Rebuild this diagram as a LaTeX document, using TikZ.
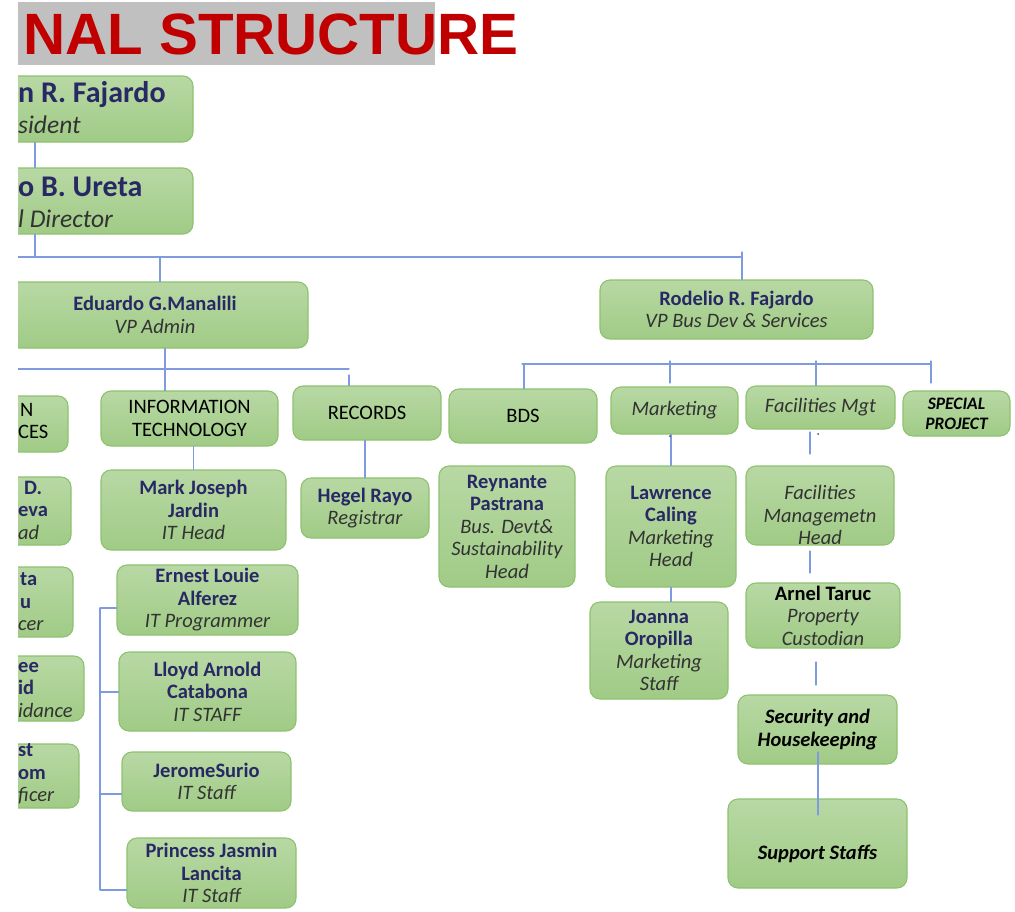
\documentclass[tikz,border=0pt]{standalone}
\usepackage{fontspec}
\setmainfont{Carlito}
\newfontfamily\titlefont{Liberation Sans}
\definecolor{boxtop}{RGB}{184,216,164}
\definecolor{boxbot}{RGB}{160,203,134}
\definecolor{boxline}{RGB}{142,194,112}
\definecolor{linkblue}{RGB}{125,155,222}
\definecolor{navy}{RGB}{40,40,100}
\definecolor{rolegray}{RGB}{50,50,50}
\definecolor{titlered}{RGB}{192,0,0}
\definecolor{titlegray}{RGB}{192,192,192}
\newcommand\pname[1]{\textcolor{navy}{\bfseries #1}}
\newcommand\prole[1]{\textcolor{rolegray}{\itshape #1}}
\newcommand\punit[1]{\textcolor{black}{\bfseries\itshape #1}}
\begin{document}
\begin{tikzpicture}[x=1pt,y=-1pt,line join=round,line cap=round,
	box/.style={draw=boxline,line width=1.1pt,rounded corners=10pt,top color=boxtop,bottom color=boxbot,
		inner sep=0pt,align=center,text=black,font=\fontsize{20.5}{22.5}\selectfont},
	cut/.style={anchor=west,align=left,inner sep=0pt,text=black,font=\fontsize{20.5}{22.5}\selectfont},
	link/.style={draw=linkblue,line width=1.3pt}]
		\useasboundingbox (0,0) rectangle (1015,911);
		\clip (18,0) rectangle (1015,911);
		\fill[titlegray] (18,2) rectangle (435,65);
		\node[anchor=west,inner sep=0pt,text=titlered,font=\titlefont\bfseries\fontsize{58.3}{62}\selectfont] (title) at (23,34) {NAL STRUCTURE};
		
		\node[box,minimum width=213pt,minimum height=66pt] (pres) at (86.5,109) {};
		\node[cut,font=\fontsize{30}{31}\selectfont] at (18,108) {\pname{n R. Fajardo}\\\prole{\fontsize{25.5}{31}\selectfont sident}};
		\node[box,minimum width=213pt,minimum height=66pt] (dir) at (86.5,201) {};
		\node[cut,font=\fontsize{30}{31}\selectfont] at (18,202) {\pname{o B. Ureta}\\\prole{\fontsize{25.5}{31}\selectfont l Director}};
		
		\node[box,minimum width=306pt,minimum height=66pt] (edu) at (155,315) {\pname{Eduardo G.Manalili}\\\prole{VP Admin}};
		\node[box,minimum width=273pt,minimum height=59pt] (rod) at (736.5,309.5) {\pname{Rodelio R. Fajardo}\\\prole{VP Bus Dev \& Services}};
		
		\node[box,minimum width=88pt,minimum height=56pt] (hr) at (24,424) {};
		\node[cut] at (18,421) {\hspace*{2pt}N\\CES};
		\node[box,minimum width=91pt,minimum height=68pt] (lc2) at (25.5,511) {};
		\node[cut] at (18,510) {\hspace*{6pt}\pname{D.}\\\pname{eva}\\\prole{ad}};
		\node[box,minimum width=93pt,minimum height=70pt] (lc3) at (26.5,602) {};
		\node[cut] at (18,602) {\hspace*{2pt}\pname{ta}\\\hspace*{2pt}\pname{u}\\\prole{cer}};
		\node[box,minimum width=104pt,minimum height=65pt] (lc4) at (32,688.5) {};
		\node[cut] at (18,690) {\pname{ee}\\\pname{id}\\\prole{idance}};
		\node[box,minimum width=99pt,minimum height=64pt] (lc5) at (29.5,776) {};
		\node[cut] at (18,774) {\pname{st}\\\pname{om}\\\prole{ficer}};
		
		\node[box,minimum width=177pt,minimum height=55pt] (it) at (189.5,418.5) {INFORMATION\\TECHNOLOGY};
		\node[box,minimum width=148pt,minimum height=54pt] (rec) at (367,413) {RECORDS};
		\node[box,minimum width=185pt,minimum height=80pt] (mark) at (193.5,510) {\pname{Mark Joseph}\\\pname{Jardin}\\\prole{IT Head}};
		\node[box,minimum width=128pt,minimum height=60pt] (hegel) at (365,508) {\pname{Hegel Rayo}\\\prole{Registrar}};
		\node[box,minimum width=181pt,minimum height=70pt] (ern) at (207.5,600) {\pname{Ernest Louie}\\\pname{Alferez}\\\prole{IT Programmer}};
		\node[box,minimum width=177pt,minimum height=79pt] (lloyd) at (207.5,691.5) {\pname{Lloyd Arnold}\\\pname{Catabona}\\\prole{IT STAFF}};
		\node[box,minimum width=169pt,minimum height=59pt] (jer) at (206.5,781.5) {\pname{JeromeSurio}\\\prole{IT Staff}};
		\node[box,minimum width=169pt,minimum height=70pt] (prin) at (211.5,873) {\pname{Princess Jasmin}\\\pname{Lancita}\\\prole{IT Staff}};
		
		\node[box,minimum width=148pt,minimum height=54pt] (bds) at (523,416) {BDS};
		\node[box,minimum width=127pt,minimum height=47pt] (mkt) at (674.5,410.5) {\prole{Marketing}};
		\node[box,minimum width=149pt,minimum height=43pt] (fac) at (820.5,407.5) {\prole{Facilities Mgt}};
		\node[box,minimum width=107pt,minimum height=45pt,font=\fontsize{17.5}{20}\selectfont] (spec) at (956.5,413.5) {\punit{SPECIAL}\\\punit{PROJECT}};
		\node[box,minimum width=136pt,minimum height=121pt] (rey) at (507,526.5) {\pname{Reynante}\\\pname{Pastrana}\\\prole{Bus. Devt\&}\\\prole{Sustainability}\\\prole{Head}};
		\node[box,minimum width=130pt,minimum height=121pt] (law) at (671,526.5) {\pname{Lawrence}\\\pname{Caling}\\\prole{Marketing}\\\prole{Head}};
		\node[box,minimum width=148pt,minimum height=79pt] (fhead) at (820,505.5) {};
		\node[cut,anchor=center,align=center] (fheadtxt) at (820,515) {\prole{Facilities}\\\prole{Managemetn}\\\prole{Head}};
		\node[box,minimum width=154pt,minimum height=65pt] (arn) at (823,615.5) {\textbf{Arnel Taruc}\\\prole{Property}\\\prole{Custodian}};
		\node[box,minimum width=138pt,minimum height=97pt] (joa) at (659,650.5) {\pname{Joanna}\\\pname{Oropilla}\\\prole{Marketing}\\\prole{Staff}};
		\node[box,minimum width=159pt,minimum height=69pt] (sec) at (817.5,729.5) {\punit{Security and}\\\punit{Housekeeping}};
		\node[box,minimum width=179pt,minimum height=89pt] (sup) at (817.5,843.5) {};
		\node[cut,anchor=center] (suptxt) at (817.5,854) {\punit{Support Staffs}};
		
		\path
		(35,257) coordinate (spine)
		(0,257) coordinate (busL)
		(742,252) coordinate (rodT)
		(160,257) coordinate (eduT)
		(0,369) coordinate (admL)
		(165,369) coordinate (itT)
		(349,369) coordinate (admR)
		(349,375) coordinate (recT)
		(522,364) coordinate (bdsL)
		(931,364) coordinate (spR)
		(524,364) coordinate (bdsT)
		(670,361) coordinate (mktT)
		(670,383) coordinate (mktB)
		(816,361) coordinate (facT)
		(931,361) coordinate (spT)
		(931,383) coordinate (spB)
		(810,432) coordinate (fhT)
		(810,454) coordinate (fhB)
		(810,551) coordinate (arT)
		(810,573) coordinate (arB)
		(816,662) coordinate (secT)
		(816,685) coordinate (secB)
		(818,752) coordinate (supT)
		(818,815) coordinate (supB)
		(100,608) coordinate (br1)
		(100,692) coordinate (br2)
		(100,794) coordinate (br3)
		(100,890) coordinate (br4)
		;
		\draw[link]
		(pres.south -| spine)--(dir.north -| spine)
		(dir.south -| spine)--(spine)
		(busL)--(busL -| rodT)
		(rodT)--(rod.north -| rodT)
		(eduT)--(edu.north -| eduT)
		(admL)--(admR)
		(edu.south -| itT)--(it.north -| itT)
		(recT)--(rec.north -| recT)
		(it.south -| mark)--(mark.north)
		(rec.south -| hegel)--(hegel.north)
		(br1)--(br4)
		(br1)--(br1 -| ern.west)
		(br2)--(br2 -| lloyd.west)
		(br3)--(br3 -| jer.west)
		(br4)--(br4 -| prin.west)
		(bdsL)--(spR)
		(bdsT)--(bds.north -| bdsT)
		(mktT)--(mktB)
		(facT)--(fac.north -| facT)
		(spT)--(spB)
		(mkt.south -| law)--(law.north)
		(law.south)--(law.south |- joa.north)
		(fhT)--(fhB)
		(arT)--(arB)
		(secT)--(secB)
		(supT)--(supB)
		;
		\fill[black!70]
		(670,436) circle (1pt)
		(818,434) circle (1pt)
		;
\end{tikzpicture}
\end{document}
